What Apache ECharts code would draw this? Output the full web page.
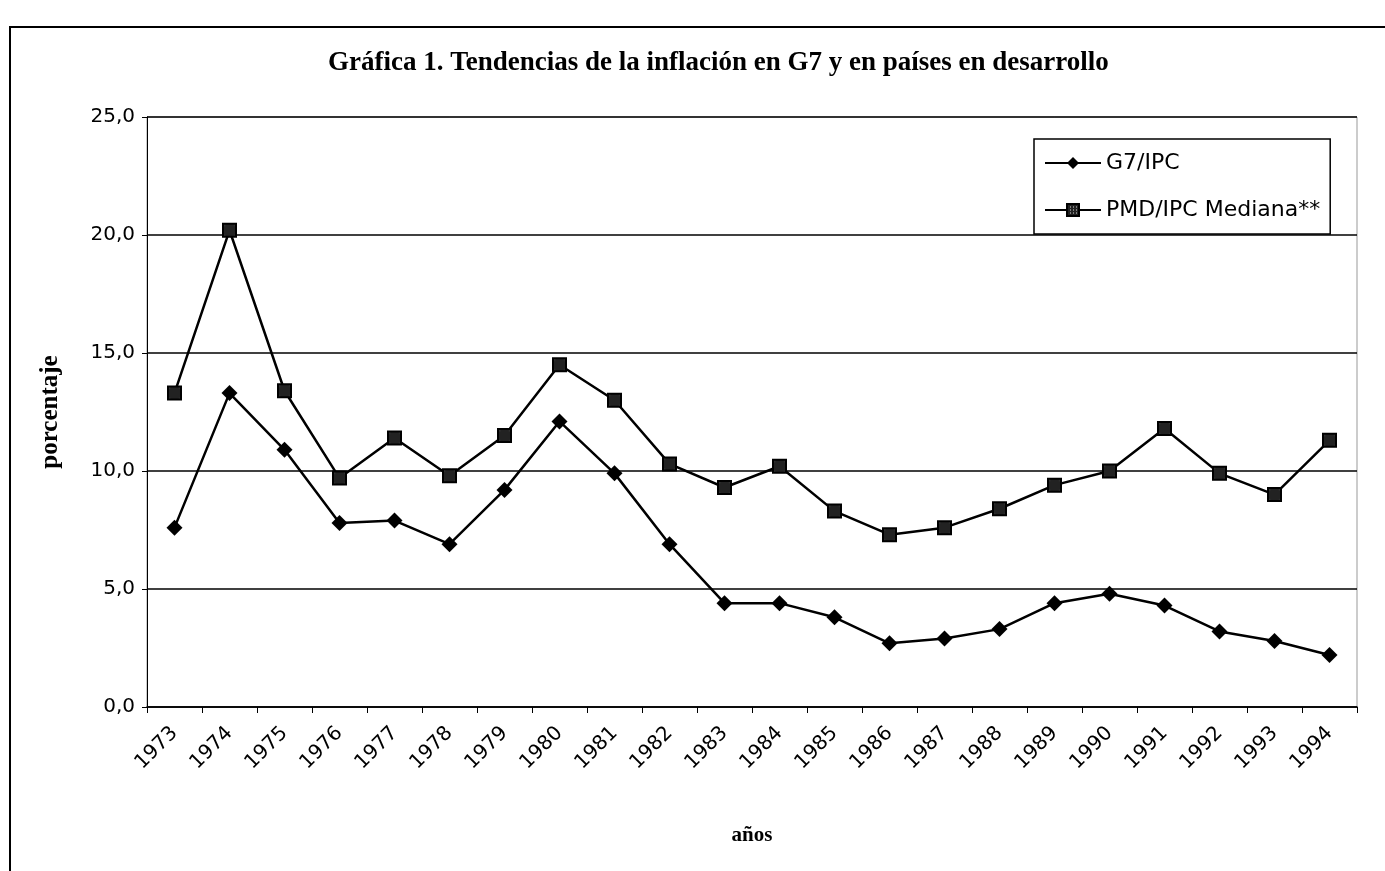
<!DOCTYPE html>
<html>
<head>
<meta charset="utf-8">
<script src="https://cdn.jsdelivr.net/npm/echarts@6/dist/echarts.min.js"></script>
<style>
  html, body { margin: 0; padding: 0; background: #fff; }
  #chart { width: 1385px; height: 871px; }
</style>
</head>
<body>
<div id="chart"></div>
<script>
// data
var years = ['1973', '1974', '1975', '1976', '1977', '1978', '1979', '1980', '1981', '1982', '1983',
	'1984', '1985', '1986', '1987', '1988', '1989', '1990', '1991', '1992', '1993', '1994'];
var g7 = [7.6, 13.3, 10.9, 7.8, 7.9, 6.9, 9.2, 12.1, 9.9, 6.9, 4.4,
	4.4, 3.8, 2.7, 2.9, 3.3, 4.4, 4.8, 4.3, 3.2, 2.8, 2.2];
var pmd = [13.3, 20.2, 13.4, 9.7, 11.4, 9.8, 11.5, 14.5, 13.0, 10.3, 9.3,
	10.2, 8.3, 7.3, 7.6, 8.4, 9.4, 10.0, 11.8, 9.9, 9.0, 11.3];
var yTicks = [0, 5, 10, 15, 20, 25];

var seriesNames = ['G7/IPC', 'PMD/IPC Mediana**'];

// small dotted fill for the square markers
var pat = document.createElement('canvas');
pat.width = 3;
pat.height = 3;
var pctx = pat.getContext('2d');
pctx.fillStyle = '#222';
pctx.fillRect(0, 0, 3, 3);
pctx.fillStyle = '#ddd';
pctx.fillRect(1, 1, 1, 1);

var myChart = echarts.init(document.getElementById('chart'));

var serif = '"Liberation Serif", "Times New Roman", serif';
var sans = '"DejaVu Sans", "Liberation Sans", Arial, sans-serif';

var option = {
	backgroundColor: '#fff',
	animation: false,
	title: {
		text: 'Gráfica 1. Tendencias de la inflación en G7 y en países en desarrollo',
		left: 323,
		top: 45,
		textStyle: {
			fontFamily: serif,
			fontWeight: 'bold',
			fontSize: 27,
			color: '#000'
		}
	},
	graphic: [
		{
			type: 'rect',
			shape: { x: 10, y: 27, width: 1400, height: 900 },
			style: { fill: 'none', stroke: '#000', lineWidth: 2 },
			silent: true
		}
	],
	legend: {
		orient: 'vertical',
		left: 1034,
		top: 139,
		padding: [13, 10, 13, 10],
		itemGap: 25,
		itemWidth: 56,
		itemHeight: 15,
		borderColor: '#000',
		borderWidth: 1.5,
		backgroundColor: '#fff',
		textStyle: {
			fontFamily: sans,
			fontSize: 22,
			color: '#000'
		},
		data: seriesNames
	},
	grid: {
		left: 147,
		right: 28,
		top: 117,
		bottom: 164,
		show: true,
		borderColor: '#999',
		borderWidth: 1,
		backgroundColor: 'transparent'
	},
	xAxis: {
		type: 'category',
		data: years,
		boundaryGap: true,
		name: 'años',
		nameLocation: 'middle',
		nameGap: 118,
		nameTextStyle: {
			fontFamily: serif,
			fontWeight: 'bold',
			fontSize: 21,
			color: '#000'
		},
		axisLine: { lineStyle: { color: '#000', width: 1.5 } },
		axisTick: { show: true, length: 6, lineStyle: { color: '#000' } },
		axisLabel: {
			rotate: 45,
			margin: 23,
			fontFamily: sans,
			fontSize: 20,
			color: '#000'
		},
		splitLine: { show: false }
	},
	yAxis: {
		type: 'value',
		min: yTicks[0],
		max: yTicks[yTicks.length - 1],
		interval: 5,
		name: 'porcentaje',
		nameLocation: 'middle',
		nameGap: 84,
		nameTextStyle: {
			fontFamily: serif,
			fontWeight: 'bold',
			fontSize: 25,
			color: '#000'
		},
		axisLine: { show: true, lineStyle: { color: '#000', width: 1 } },
		axisTick: { show: true, length: 5, lineStyle: { color: '#000' } },
		axisLabel: {
			margin: 12,
			fontFamily: sans,
			fontSize: 20,
			color: '#000',
			formatter: function(v) {
				return v.toFixed(1).replace('.', ',');
			}
		},
		splitLine: { show: true, lineStyle: { color: '#000', width: 1.5 } }
	},
	series: [
		{
			name: seriesNames[0],
			type: 'line',
			data: g7,
			symbol: 'diamond',
			symbolSize: 16,
			lineStyle: { color: '#000', width: 2.5 },
			itemStyle: { color: '#000' }
		},
		{
			name: seriesNames[1],
			type: 'line',
			data: pmd,
			symbol: 'rect',
			symbolSize: 13,
			lineStyle: { color: '#000', width: 2.5 },
			itemStyle: {
				color: { image: pat, repeat: 'repeat' },
				borderColor: '#000',
				borderWidth: 2
			}
		}
	]
};

myChart.setOption(option, true);
</script>
</body>
</html>
